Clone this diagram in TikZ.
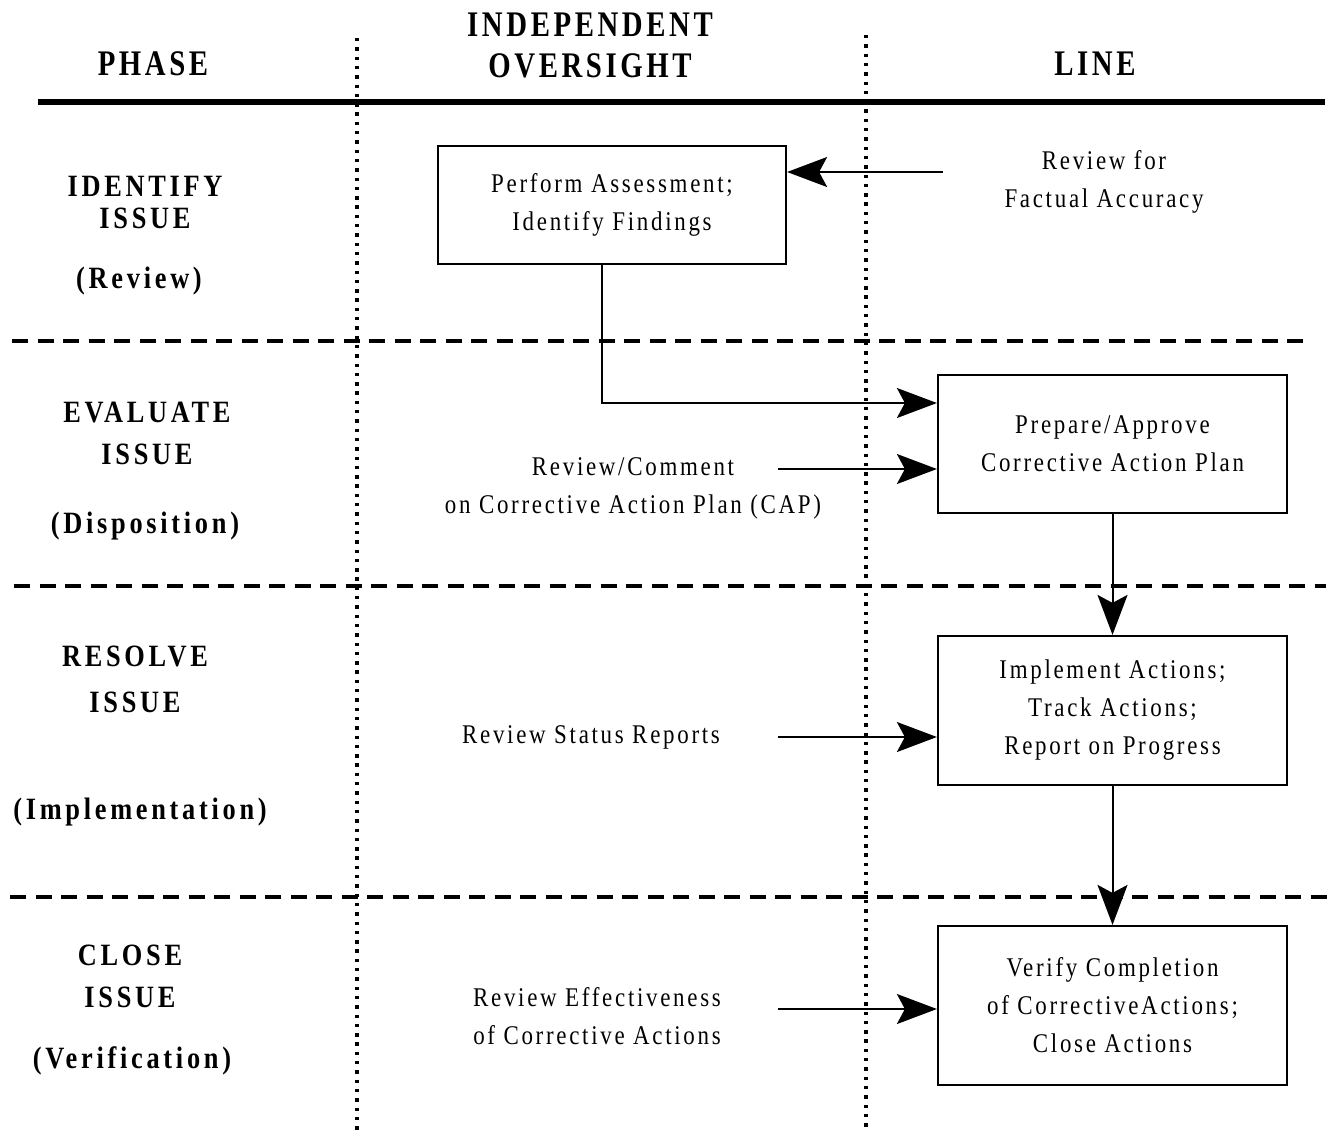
\documentclass[tikz,border=0pt]{standalone}
\usepackage{fontspec}
\usetikzlibrary{arrows.meta}
\newfontfamily\hdfont{Liberation Serif}[FakeStretch=0.8,LetterSpace=10]
\newfontfamily\phfont{Liberation Serif}[FakeStretch=0.85,LetterSpace=12]
\newfontfamily\bdfont{Liberation Serif}[FakeStretch=0.85,LetterSpace=10]
\tikzset{
  head/.style={font=\hdfont\bfseries\fontsize{36}{41}\selectfont, align=center, inner sep=0pt},
  phase/.style={font=\phfont\bfseries\fontsize{31}{36}\selectfont, align=center, inner sep=0pt},
  body/.style={font=\bdfont\fontsize{27}{38}\selectfont, align=center, inner sep=0pt},
  stepbox/.style={body, draw, line width=2.2pt},
  lane/.style={line width=3.8pt, dash pattern=on 3.4pt off 5.9pt},
  band/.style={line width=3.8pt, dash pattern=on 16pt off 9.5pt},
  arr/.style={line width=2pt, -{Stealth[length=40pt, width=30pt, inset=8pt]}},
}
\begin{document}
\begin{tikzpicture}[x=1pt, y=-1pt]
\useasboundingbox (0,0) rectangle (1330,1130);

% column headings and rules
\node[head] (hphase) at (153,64) {PHASE};
\node[head] (hio) at (590,45) {INDEPENDENT\\OVERSIGHT};
\node[head] (hline) at (1095,64) {LINE};
\draw[line width=6pt] (38,102) -- (1325,102);
\draw[lane] (357,38) -- (357,1130);
\draw[lane] (866,35) -- (866,1130);
\draw[band] (12,341) -- (1312,341);
\draw[band] (14,586) -- (1326,586);
\draw[band] (10,897) -- (1330,897);

% phase labels
\node[phase] (p1a) at (145,202) {IDENTIFY\\[-4pt]ISSUE};
\node[phase] (p1b) at (139,281) {(Review)};
\node[phase] (p2a) at (147,433) {EVALUATE\\[6pt]ISSUE};
\node[phase] (p2b) at (145,526) {(Disposition)};
\node[phase] (p3a) at (135,679) {RESOLVE\\[10pt]ISSUE};
\node[phase] (p3b) at (140,812) {(Implementation)};
\node[phase] (p4a) at (130,976) {CLOSE\\[6pt]ISSUE};
\node[phase] (p4b) at (132,1061) {(Verification)};

% process boxes
\node[stepbox, minimum width=348pt, minimum height=118pt] (b1) at (612,205)
  {Perform Assessment;\\Identify Findings};
\node[stepbox, minimum width=349pt, minimum height=138pt] (b2) at (1112.5,444)
  {Prepare/Approve\\Corrective Action Plan};
\node[stepbox, minimum width=349pt, minimum height=149pt] (b3) at (1112.5,710.5)
  {Implement Actions;\\Track Actions;\\Report on Progress};
\node[stepbox, minimum width=349pt, minimum height=159pt] (b4) at (1112.5,1005.5)
  {Verify Completion\\of CorrectiveActions;\\Close Actions};

% free-standing activities
\node[body] (t1) at (1104,182) {Review for\\Factual Accuracy};
\node[body] (t2) at (633,488) {Review/Comment\\on Corrective Action Plan (CAP)};
\node[body] (t3) at (591,737) {Review Status Reports};
\node[body] (t4) at (597,1016) {Review Effectiveness\\of Corrective Actions};

\coordinate (c1) at (943,172);
\coordinate (c2) at (778,469);
\coordinate (c3) at (778,737);
\coordinate (c4) at (778,1009);
\coordinate (k1) at (602,403);

% connectors
\draw[arr] (c1) -- (c1 -| b1.east);
\draw[arr] (k1 |- b1.south) -- (k1) -- (k1 -| b2.west);
\draw[arr] (c2) -- (c2 -| b2.west);
\draw[arr] (b2.south) -- (b3.north);
\draw[arr] (c3) -- (c3 -| b3.west);
\draw[arr] (b3.south) -- (b4.north);
\draw[arr] (c4) -- (c4 -| b4.west);
\end{tikzpicture}
\end{document}
